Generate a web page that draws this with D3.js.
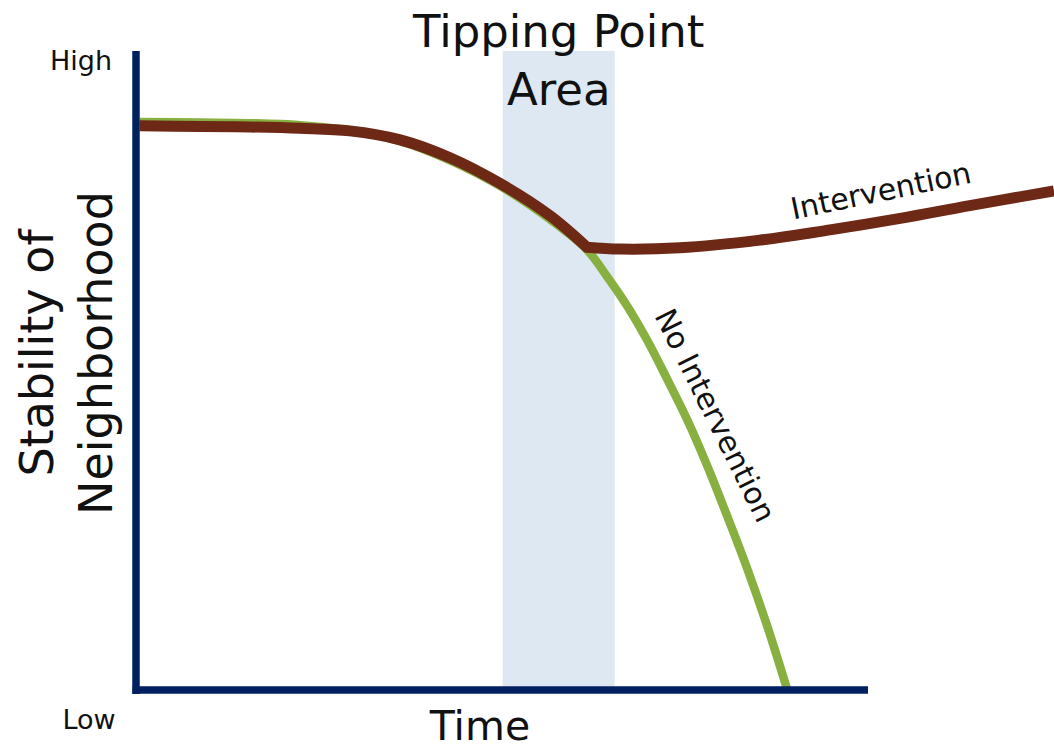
<!DOCTYPE html>
<html>
<head>
<meta charset="utf-8">
<script src="https://cdn.jsdelivr.net/npm/d3@7"></script>
<style>
  html, body { margin: 0; padding: 0; background: #fff; }
  svg { display: block; }
  text { font-family: "DejaVu Sans", sans-serif; fill: #111; }
</style>
</head>
<body>
<svg id="chart" width="1054" height="751"></svg>
<script>
// Time runs 0..100 along the axis; stability runs 0 (Low) .. 100 (High).
const axisLabels = { high: "High", low: "Low" };
const xTitle = "Time";
const yTitle = ["Stability of", "Neighborhood"];
const zoneTitle = ["Tipping Point", "Area"];
const curveLabels = { intervention: "Intervention", noIntervention: "No Intervention" };
const tippingZone = [50.1, 65.4];

// Path without intervention: steady, then collapsing after the tipping area.
const noInterventionTime  = [0.5, 8.7, 15.6, 22.4, 29.2, 36.1, 42.9, 49.7, 56.6, 61.6, 64.3, 67.1, 69.8, 72.5, 75.3, 78.0, 80.7, 83.5, 86.2, 88.9];
const noInterventionValue = [88.9, 88.8, 88.7, 88.4, 87.6, 85.9, 82.9, 78.9, 73.6, 68.9, 64.8, 60.1, 54.8, 48.8, 42.3, 35.2, 27.4, 19.0, 10.1, 0.3];

// Path with intervention: same decline until the intervention point, then recovery.
const declineTime   = [0.5, 8.7, 15.6, 22.4, 29.2, 36.1, 42.9, 49.7, 56.6, 61.6];
const declineValue  = [88.3, 88.2, 88.1, 87.9, 87.5, 86.1, 83.3, 79.3, 74.2, 69.3];
const recoveryTime  = [61.6, 66.1, 74.3, 85.2, 94.8, 104.4, 113.9, 125.4];
const recoveryValue = [69.3, 69.0, 69.2, 70.4, 72.0, 73.8, 75.8, 78.1];

const colors = {
  axis: "#002060",
  zone: "#dee8f3",
  noIntervention: "#88b040",
  intervention: "#6d2816",
  text: "#111"
};

const svg = d3.select("#chart");
const x = d3.scaleLinear().domain([0, 100]).range([136, 868]);
const y = d3.scaleLinear().domain([0, 100]).range([690, 51]);

// Tipping point band
svg.append("rect")
  .attr("x", x(tippingZone[0]))
  .attr("y", y(100))
  .attr("width", x(tippingZone[1]) - x(tippingZone[0]))
  .attr("height", y(0) - y(100))
  .attr("fill", colors.zone);

const line = d3.line()
  .x(d => x(d[0]))
  .y(d => y(d[1]))
  .curve(d3.curveCatmullRom.alpha(0.5));

const zip = (a, b) => a.map((v, i) => [v, b[i]]);

svg.append("path")
  .attr("d", line(zip(noInterventionTime, noInterventionValue)))
  .attr("fill", "none")
  .attr("stroke", colors.noIntervention)
  .attr("stroke-width", 8.5);

// Decline and recovery share one path so the turn forms a sharp joint.
const declinePath = line(zip(declineTime, declineValue));
const recoveryPath = line(zip(recoveryTime, recoveryValue)).replace(/^M/, "L");
svg.append("path")
  .attr("d", declinePath + recoveryPath)
  .attr("fill", "none")
  .attr("stroke", colors.intervention)
  .attr("stroke-width", 11)
  .attr("stroke-linejoin", "miter");

// Axes drawn as plain rules, no ticks
svg.append("line")
  .attr("x1", x(0)).attr("x2", x(0))
  .attr("y1", y(100)).attr("y2", y(0) + 4)
  .attr("stroke", colors.axis).attr("stroke-width", 7.5);
svg.append("line")
  .attr("x1", x(0) - 3.5).attr("x2", x(100))
  .attr("y1", y(0)).attr("y2", y(0))
  .attr("stroke", colors.axis).attr("stroke-width", 7.5);

// End labels on the stability axis
svg.append("text").attr("x", 81).attr("y", 70)
  .attr("text-anchor", "middle").attr("font-size", 27).text(axisLabels.high);
svg.append("text").attr("x", 89).attr("y", 729)
  .attr("text-anchor", "middle").attr("font-size", 27).text(axisLabels.low);

// Axis titles
svg.append("text").attr("x", 480).attr("y", 740)
  .attr("text-anchor", "middle").attr("font-size", 41).text(xTitle);

const yBase = [53, 112];
yTitle.forEach((t, i) => {
  svg.append("text")
    .attr("transform", `translate(${yBase[i]},353) rotate(-90)`)
    .attr("text-anchor", "middle")
    .attr("font-size", 46)
    .text(t);
});

// Band title
const zoneBase = [47, 105];
zoneTitle.forEach((t, i) => {
  svg.append("text")
    .attr("x", (x(tippingZone[0]) + x(tippingZone[1])) / 2)
    .attr("y", zoneBase[i])
    .attr("text-anchor", "middle")
    .attr("font-size", 45)
    .text(t);
});

// Curve labels
svg.append("text")
  .attr("transform", "translate(883,201) rotate(-11.7)")
  .attr("text-anchor", "middle").attr("font-size", 30)
  .text(curveLabels.intervention);
svg.append("text")
  .attr("transform", "translate(706,420) rotate(63.6)")
  .attr("text-anchor", "middle").attr("font-size", 30)
  .text(curveLabels.noIntervention);
</script>
</body>
</html>
